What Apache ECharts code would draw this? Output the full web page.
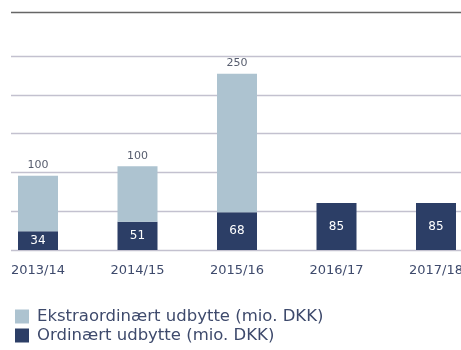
<!DOCTYPE html>
<html>
<head>
<meta charset="utf-8">
<script src="https://cdn.jsdelivr.net/npm/echarts@6/dist/echarts.min.js"></script>
<style>
  html, body { margin: 0; padding: 0; background: #ffffff; }
  #chart { width: 461px; height: 350px; }
</style>
</head>
<body>
<div id="chart"></div>
<script>
// Dividend per financial year (mio. DKK)
const years = ['2013/14', '2014/15', '2015/16', '2016/17', '2017/18'];
const ordinary = [34, 51, 68, 85, 85];
const extraordinary = [100, 100, 250, null, null];
const seriesNames = ['Ekstraordinært udbytte (mio. DKK)', 'Ordinært udbytte (mio. DKK)'];

const FONT = 'DejaVu Sans';
const LIGHT = '#adc3d0';
const DARK = '#2c3e66';
const TEXT = '#3e4a6c';

const chart = echarts.init(document.getElementById('chart'), null, { renderer: 'canvas' });

const legendBase = {
  left: 10,
  orient: 'vertical',
  itemWidth: 14,
  itemHeight: 14,
  icon: 'rect',
  selectedMode: false,
  textStyle: { fontFamily: FONT, fontSize: 16.5, color: TEXT, padding: [0, 0, 0, 3] }
};

chart.setOption({
  animation: false,
  textStyle: { fontFamily: FONT },
  graphic: [{
    type: 'line',
    shape: { x1: 11, y1: 12.5, x2: 461, y2: 12.5 },
    style: { stroke: '#666666', lineWidth: 1.5 }
  }],
  legend: [
    Object.assign({}, legendBase, { top: 303, data: [seriesNames[0]] }),
    Object.assign({}, legendBase, { top: 322, data: [seriesNames[1]] })
  ],
  grid: [
    // background grid holding the horizontal rules
    { left: 11, right: 0, top: 56, bottom: 100, outerBoundsMode: 'none', containLabel: false },
    // grid holding the bars
    { left: -11.75, width: 497.5, top: 56, bottom: 100, outerBoundsMode: 'none', containLabel: false }
  ],
  xAxis: [
    { gridIndex: 0, type: 'value', show: false, min: 0, max: 1 },
    {
      gridIndex: 1,
      type: 'category',
      data: years,
      axisLine: { show: false },
      axisTick: { show: false },
      axisLabel: { fontFamily: FONT, fontSize: 13, color: TEXT, margin: 14 }
    }
  ],
  yAxis: [
    {
      gridIndex: 0, type: 'value', min: 0, max: 350, interval: 70,
      axisLabel: { show: false }, axisLine: { show: false }, axisTick: { show: false },
      splitLine: { show: true, lineStyle: { color: '#c3c1cf', width: 1.3 } }
    },
    {
      gridIndex: 1, type: 'value', min: 0, max: 350, interval: 70,
      axisLabel: { show: false }, axisLine: { show: false }, axisTick: { show: false },
      splitLine: { show: false }
    }
  ],
  series: [
    {
      name: seriesNames[1],
      type: 'bar',
      stack: 'udbytte',
      xAxisIndex: 1,
      yAxisIndex: 1,
      barWidth: 40,
      data: ordinary,
      itemStyle: { color: DARK },
      label: {
        show: true, position: 'inside', color: '#ffffff',
        fontFamily: FONT, fontSize: 12
      }
    },
    {
      name: seriesNames[0],
      type: 'bar',
      stack: 'udbytte',
      xAxisIndex: 1,
      yAxisIndex: 1,
      barWidth: 40,
      data: extraordinary,
      itemStyle: { color: LIGHT },
      label: {
        show: true, position: 'top', distance: 5, color: '#575d6e',
        fontFamily: FONT, fontSize: 11,
        formatter: p => (p.value ? String(p.value) : '')
      }
    }
  ]
});
</script>
</body>
</html>
